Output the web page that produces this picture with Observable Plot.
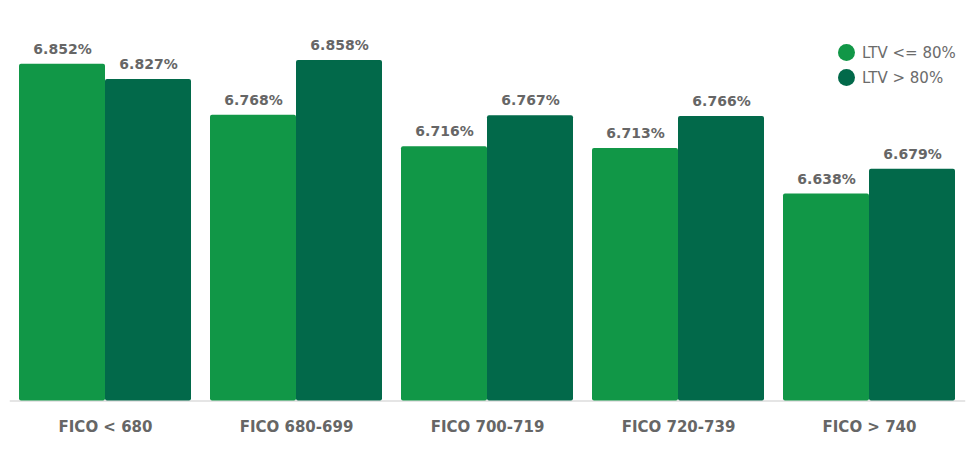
<!DOCTYPE html>
<html>
<head>
<meta charset="utf-8">
<script src="https://cdn.jsdelivr.net/npm/d3@7"></script>
<script src="https://cdn.jsdelivr.net/npm/@observablehq/plot@0.6"></script>
<style>
  html, body { margin: 0; padding: 0; background: #fff; }
  #wrap { position: relative; width: 976px; height: 453px; font-family: "DejaVu Sans", sans-serif; }
  #legend { position: absolute; left: 838px; top: 40px; color: #6b6b6b; font-size: 15px; }
  #legend .row { display: flex; align-items: center; height: 25px; }
  #legend .sw { width: 17px; height: 17px; border-radius: 50%; margin-right: 7px; }
</style>
</head>
<body>
<div id="wrap"><div id="legend"></div></div>
<script>
const categories = ["FICO < 680", "FICO 680-699", "FICO 700-719", "FICO 720-739", "FICO > 740"];
const seriesNames = ["LTV <= 80%", "LTV > 80%"];
const ltvLow = [6.852, 6.768, 6.716, 6.713, 6.638];
const ltvHigh = [6.827, 6.858, 6.767, 6.766, 6.679];
const colors = ["#119747", "#02694a"];
const yDomain = [6.297, 6.957];

const data = [];
categories.forEach((c, i) => {
  data.push({cat: c, series: seriesNames[0], value: ltvLow[i]});
  data.push({cat: c, series: seriesNames[1], value: ltvHigh[i]});
});

const chart = Plot.plot({
  width: 976,
  height: 453,
  marginTop: 0,
  marginBottom: 52.5,
  marginLeft: 9,
  marginRight: 12,
  style: {fontFamily: "DejaVu Sans, sans-serif", background: "#fff"},
  fx: {domain: categories, paddingInner: 0.1, paddingOuter: 0.05, label: null, axis: null},
  x: {domain: seriesNames, padding: 0, axis: null},
  y: {domain: yDomain, axis: null},
  color: {domain: seriesNames, range: colors},
  marks: [
    Plot.frame({anchor: "bottom", facet: "super", stroke: "#dcdcdc", strokeWidth: 1.5, insetLeft: -9, insetRight: -9}),
    Plot.barY(data, {fx: "cat", x: "series", y1: yDomain[0], y2: "value", fill: "series", rx: 2}),
    Plot.text(data, {fx: "cat", x: "series", y: "value", text: d => d.value.toFixed(3) + "%", dy: -15, fill: "#666666", fontSize: 14, fontWeight: "bold"}),
    Plot.axisFx({domain: categories, anchor: "bottom", tickSize: 0, tickPadding: 20, label: null, fontSize: 15, fontWeight: "bold", fill: "#666666"})
  ]
});
document.getElementById("wrap").prepend(chart);

const legend = document.getElementById("legend");
seriesNames.forEach((s, i) => {
  const row = document.createElement("div");
  row.className = "row";
  const sw = document.createElement("div");
  sw.className = "sw";
  sw.style.background = colors[i];
  const t = document.createElement("span");
  t.textContent = s;
  row.append(sw, t);
  legend.append(row);
});
</script>
</body>
</html>
